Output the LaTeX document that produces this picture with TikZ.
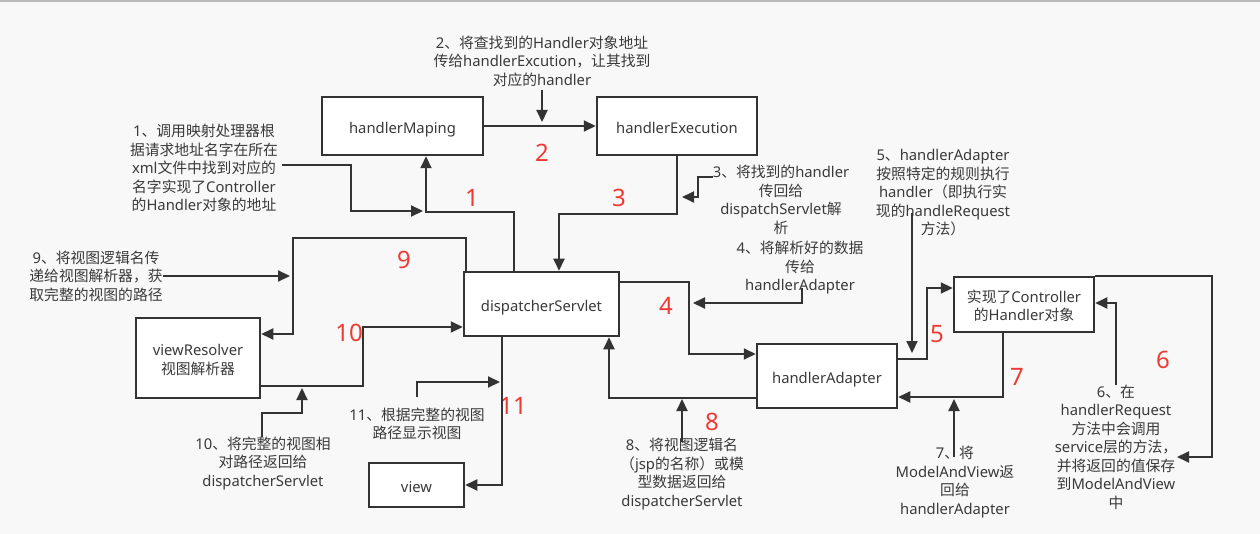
\documentclass[tikz,border=0pt]{standalone}
\usepackage{fontspec}
\setmainfont{Noto Sans}
\newfontfamily\zhfont{Noto Sans CJK SC}
\newcommand{\zh}[1]{{\zhfont #1}}
\newcommand{\bx}[1]{\raisebox{-3.5pt}[\height][\depth]{\begin{tabular}{@{}c@{}}#1\end{tabular}}}
\usetikzlibrary{arrows.meta,calc}
\definecolor{ink}{RGB}{51,51,51}
\definecolor{txt}{RGB}{58,58,58}
\definecolor{numred}{RGB}{238,58,52}
\definecolor{bg}{RGB}{248,248,248}
\begin{document}
\begin{tikzpicture}[x=1pt,y=-1pt,
  box/.style={draw=ink,line width=2.5pt,fill=white,text=txt,font=\fontsize{14.8}{18.5}\selectfont,inner sep=0pt},
  lbl/.style={text=txt,align=center,font=\fontsize{14.8}{18.5}\selectfont,inner sep=0pt},
  num/.style={text=numred,font=\fontsize{24}{24}\selectfont,inner sep=0pt},
  arr/.style={draw=ink,line width=2pt,-{Triangle[length=12pt,width=11pt]}}]
\useasboundingbox (0,0) rectangle (1260,534);
\fill[bg] (0,0) rectangle (1260,534);
\draw[gray!55,line width=1.6pt] (0,0.8) -- (1260,0.8);

% boxes
\node[box,minimum width=161pt,minimum height=58pt] (hm) at (402.5,126) {\bx{handlerMaping}};
\node[box,minimum width=160pt,minimum height=58pt] (he) at (677,126) {\bx{handlerExecution}};
\node[box,minimum width=155pt,minimum height=64pt] (disp) at (541.5,304) {\bx{dispatcherServlet}};
\node[box,minimum width=124pt,minimum height=80pt] (vr) at (198,358) {\bx{viewResolver\\\zh{视图解析器}}};
\node[box,minimum width=95pt,minimum height=44pt] (view) at (416.5,485) {\bx{view}};
\node[box,minimum width=140pt,minimum height=64pt] (ha) at (827,376) {\bx{handlerAdapter}};
\node[box,minimum width=140pt,minimum height=55pt] (ctrl) at (1024,304.5) {\bx{\zh{实现了}Controller\\\zh{的}Handler\zh{对象}}};

% text labels
\node[lbl] (t1) at (204,168) {1\zh{、调用映射处理器根}\\\zh{据请求地址名字在所在}\\xml\zh{文件中找到对应的}\\\zh{名字实现了}Controller\\\zh{的}Handler\zh{对象的地址}};
\node[lbl] (t2) at (542,61) {2\zh{、将查找到的}Handler\zh{对象地址}\\\zh{传给}handlerExcution\zh{，让其找到}\\\zh{对应的}handler};
\node[lbl] (t3) at (781,200) {3\zh{、将找到的}handler\\\zh{传回给}\\dispatchServlet\zh{解}\\\zh{析}};
\node[lbl] (t4) at (800,268) {4\zh{、将解析好的数据}\\\zh{传给}\\handlerAdapter};
\node[lbl] (t5) at (943,193) {5\zh{、}handlerAdapter\\\zh{按照特定的规则执行}\\handler\zh{（即执行实}\\\zh{现的}handleRequest\\\zh{方法）}};
\node[lbl] (t6) at (1116,447) {6\zh{、在}\\handlerRequest\\\zh{方法中会调用}\\service\zh{层的方法，}\\\zh{并将返回的值保存}\\\zh{到}ModelAndView\\\zh{中}};
\node[lbl] (t7) at (955,482) {7\zh{、将}\\ModelAndView\zh{返}\\\zh{回给}\\handlerAdapter};
\node[lbl] (t8) at (682,474) {8\zh{、将视图逻辑名}\\\zh{（}jsp\zh{的名称）或模}\\\zh{型数据返回给}\\dispatcherServlet};
\node[lbl] (t9) at (96,276) {9\zh{、将视图逻辑名传}\\\zh{递给视图解析器，获}\\\zh{取完整的视图的路径}};
\node[lbl] (t10) at (263,463) {10\zh{、将完整的视图相}\\\zh{对路径返回给}\\dispatcherServlet};
\node[lbl] (t11) at (417,424) {11\zh{、根据完整的视图}\\\zh{路径显示视图}};

% red step numbers
\node[num] (n1) at (472,198) {1};
\node[num] (n2) at (542,153) {2};
\node[num] (n3) at (619,198) {3};
\node[num] (n4) at (666,306) {4};
\node[num] (n5) at (937,334) {5};
\node[num] (n6) at (1163,360) {6};
\node[num] (n7) at (1017,377) {7};
\node[num] (n8) at (712,422) {8};
\node[num] (n9) at (404,260) {9};
\node[num] (n10) at (349,333) {10};
\node[num] (n11) at (513,406) {11};

% main connectors
\draw[arr] ($(disp.north)+(-27.5,0)$) -- ++(0,-59) -| ($(hm.south)+(23.5,0)$);
\draw[arr] (hm.east) -- (he.west);
\draw[arr] (he.south) -- ++(0,58) -| ($(disp.north)+(17.5,0)$);
\draw[arr] ($(disp.east)+(0,-22)$) -- ++(69,0) |- ($(ha.west)+(0,-22)$);
\coordinate (e6) at (1177,457);
\draw[arr] ($(ha.east)+(0,-17)$) -- ++(29,0) |- ($(ctrl.west)+(0,-16.5)$);
\draw[arr] (ctrl.north east) -- ++(117,0) |- (e6);
\draw[arr] ($(ctrl.south)+(-21,0)$) |- ($(ha.east)+(0,21)$);
\draw[arr] ($(ha.west)+(0,22)$) -| ($(disp.south)+(67.5,0)$);
\draw[arr] ($(disp.north west)+(3,0)$) -- ++(0,-33) -- ++(-173,0) |- ($(vr.east)+(0,-24)$);
\draw[arr] ($(vr.east)+(0,28)$) -- ++(102,0) |- ($(disp.west)+(0,23)$);
\draw[arr] ($(disp.south)+(-39.5,0)$) |- (view.east);

% annotation arrows
\coordinate (s1) at (282,165); \coordinate (e1) at (423,211);
\coordinate (s2) at (542,90); \coordinate (e2) at (542,122);
\coordinate (s3) at (713,177); \coordinate (e3) at (682,197);
\coordinate (s4) at (802,288); \coordinate (e4) at (693,303);
\coordinate (s5) at (912,213); \coordinate (e5) at (912,353);
\coordinate (s6) at (1116,385);
\coordinate (s7) at (954,457); \coordinate (e7) at (954,399);
\coordinate (s8) at (682,442); \coordinate (e8) at (682,399);
\coordinate (s9) at (163,276); \coordinate (e9) at (290,276);
\coordinate (s10) at (262,437); \coordinate (e10) at (302,388);
\coordinate (s11) at (417,397); \coordinate (e11) at (500,382);
\draw[arr] (s1) -- ++(69,0) |- (e1);
\draw[arr] (s2) -- (e2);
\draw[arr] (s3) -- ++(-15,0) |- (e3);
\draw[arr] (s4) |- (e4);
\draw[arr] (s5) -- (e5);
\draw[arr] (s6) |- ($(ctrl.east)+(0,-1.5)$);
\draw[arr] (s7) -- (e7);
\draw[arr] (s8) -- (e8);
\draw[arr] (s9) -- (e9);
\draw[arr] (s10) -- ++(0,-24) -| (e10);
\draw[arr] (s11) |- (e11);
\end{tikzpicture}
\end{document}
